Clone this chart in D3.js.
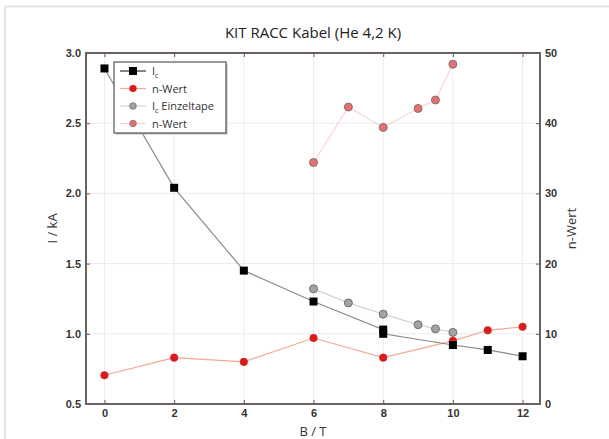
<!DOCTYPE html>
<html>
<head>
<meta charset="utf-8">
<script src="https://cdn.jsdelivr.net/npm/d3@7"></script>
<style>
  body { margin: 0; background: #fff; }
  svg { display: block; font-family: 'Open Sans', 'DejaVu Sans', sans-serif; }
  .tick text { font-size: 11px; fill: #333; font-weight: 600; }
</style>
</head>
<body>
<div id="chart"></div>
<script>
// Kabel-Messung
const cableField = [0, 2, 4, 6, 8, 8, 10, 11, 12];
const cableIc = [2.89, 2.04, 1.45, 1.23, 1.03, 1.0, 0.92, 0.885, 0.84];
const cableNField = [0, 2, 4, 6, 8, 10, 11, 12];
const cableN = [4.1, 6.6, 6.0, 9.4, 6.6, 9.0, 10.5, 11.0];
// Einzeltape
const tapeField = [6, 7, 8, 9, 9.5, 10];
const tapeIc = [1.32, 1.22, 1.14, 1.065, 1.035, 1.01];
const tapeN = [34.4, 42.3, 39.4, 42.1, 43.3, 48.4];
// Achsen
const xTicks = [0, 2, 4, 6, 8, 10, 12];
const yTicks = [0.5, 1.0, 1.5, 2.0, 2.5, 3.0];
const y2Ticks = [0, 10, 20, 30, 40, 50];

const width = 609;
const height = 439;
const margin = { top: 53, right: 69, bottom: 35, left: 86 };

const svg = d3.select('#chart').append('svg')
  .attr('width', width)
  .attr('height', height);

svg.append('rect').attr('width', width).attr('height', height).attr('fill', '#fff');

// Rahmen des Screenshots
svg.append('path')
  .attr('d', 'M5,' + height + ' V6.5 H' + width)
  .attr('fill', 'none')
  .attr('stroke', '#dfe5e4')
  .attr('stroke-width', 2);

const x = d3.scaleLinear().domain([-0.53, 12.5]).range([margin.left, width - margin.right]);
const y = d3.scaleLinear().domain([0.5, 3.0]).range([height - margin.bottom, margin.top]);
const y2 = d3.scaleLinear().domain([0, 50]).range([height - margin.bottom, margin.top]);

const x0 = margin.left, x1 = width - margin.right;
const yb = height - margin.bottom, yt = margin.top;

// Gitter
const grid = svg.append('g').attr('stroke', '#ececec').attr('stroke-width', 1);
grid.selectAll('.vg').data(xTicks).join('line')
  .attr('x1', d => x(d)).attr('x2', d => x(d)).attr('y1', yt).attr('y2', yb);
grid.selectAll('.hg').data(yTicks).join('line')
  .attr('x1', x0).attr('x2', x1).attr('y1', d => y(d)).attr('y2', d => y(d));

function styleAxis(g) {
  g.select('.domain').remove();
  g.selectAll('.tick line').attr('stroke', '#5f5757').attr('stroke-width', 1);
}

// Achsen (Ticks nach innen)
svg.append('g').attr('transform', 'translate(0,' + yb + ')')
  .call(d3.axisBottom(x).tickValues(xTicks).tickSizeInner(-4).tickPadding(5))
  .call(styleAxis);
svg.append('g').attr('transform', 'translate(0,' + yt + ')')
  .call(d3.axisTop(x).tickValues(xTicks).tickSizeInner(-4).tickFormat(''))
  .call(styleAxis);
svg.append('g').attr('transform', 'translate(' + x0 + ',0)')
  .call(d3.axisLeft(y).tickValues(yTicks).tickSizeInner(-4).tickPadding(5).tickFormat(d3.format('.1f')))
  .call(styleAxis);
svg.append('g').attr('transform', 'translate(' + x1 + ',0)')
  .call(d3.axisRight(y2).tickValues(y2Ticks).tickSizeInner(-4).tickPadding(5))
  .call(styleAxis);

// Linien
const lineIc = d3.line().x((d, i) => x(cableField[i])).y(d => y(d));
const lineN = d3.line().x((d, i) => x(cableNField[i])).y(d => y2(d));
const lineTapeIc = d3.line().x((d, i) => x(tapeField[i])).y(d => y(d));
const lineTapeN = d3.line().x((d, i) => x(tapeField[i])).y(d => y2(d));

svg.append('path').datum(tapeN).attr('d', lineTapeN)
  .attr('fill', 'none').attr('stroke', '#f9d3d3').attr('stroke-width', 1.2);
svg.append('path').datum(tapeIc).attr('d', lineTapeIc)
  .attr('fill', 'none').attr('stroke', '#d4d4d4').attr('stroke-width', 1.2);
svg.append('path').datum(cableN).attr('d', lineN)
  .attr('fill', 'none').attr('stroke', '#f5a898').attr('stroke-width', 1.2);
svg.append('path').datum(cableIc).attr('d', lineIc)
  .attr('fill', 'none').attr('stroke', '#8a8a8a').attr('stroke-width', 1.2);

// Marker
svg.append('g').selectAll('circle').data(tapeN).join('circle')
  .attr('cx', (d, i) => x(tapeField[i])).attr('cy', d => y2(d)).attr('r', 4)
  .attr('fill', '#e27272').attr('stroke', '#8c6d6d').attr('stroke-width', 1);
svg.append('g').selectAll('circle').data(tapeIc).join('circle')
  .attr('cx', (d, i) => x(tapeField[i])).attr('cy', d => y(d)).attr('r', 4)
  .attr('fill', '#a3a3a3').attr('stroke', '#6f6f6f').attr('stroke-width', 1);
svg.append('g').selectAll('circle').data(cableN).join('circle')
  .attr('cx', (d, i) => x(cableNField[i])).attr('cy', d => y2(d)).attr('r', 3.8)
  .attr('fill', '#d81c1c').attr('stroke', '#d81c1c').attr('stroke-width', 0.5);
svg.append('g').selectAll('rect').data(cableIc).join('rect')
  .attr('x', (d, i) => x(cableField[i]) - 4).attr('y', d => y(d) - 4)
  .attr('width', 8).attr('height', 8).attr('fill', '#000');

// Rahmen
svg.append('rect')
  .attr('x', x0).attr('y', yt).attr('width', x1 - x0).attr('height', yb - yt)
  .attr('fill', 'none').attr('stroke', '#6a6262').attr('stroke-width', 2);

// Titel und Achsenbeschriftungen
svg.append('text').attr('x', (x0 + x1) / 2).attr('y', 38).attr('text-anchor', 'middle')
  .attr('font-size', 15).attr('fill', '#222').text('KIT RACC Kabel (He 4,2 K)');
svg.append('text').attr('x', (x0 + x1) / 2).attr('y', 436).attr('text-anchor', 'middle')
  .attr('font-size', 13).attr('fill', '#333').text('B / T');
svg.append('text').attr('transform', 'translate(57,' + (yt + yb) / 2 + ') rotate(-90)')
  .attr('text-anchor', 'middle').attr('font-size', 13).attr('fill', '#333').text('I / kA');
svg.append('text').attr('transform', 'translate(576,' + (yt + yb) / 2 + ') rotate(-90)')
  .attr('text-anchor', 'middle').attr('font-size', 13).attr('fill', '#333').text('n-Wert');

// Legende
const legendItems = [
  { label: 'I', sub: 'c', line: '#333', marker: 'square', fill: '#000', stroke: '#000' },
  { label: 'n-Wert', line: '#f5a898', marker: 'circle', fill: '#d81c1c', stroke: '#d81c1c' },
  { label: 'I', sub: 'c', extra: ' Einzeltape', line: '#d4d4d4', marker: 'circle', fill: '#a3a3a3', stroke: '#6f6f6f' },
  { label: 'n-Wert', line: '#f9d3d3', marker: 'circle', fill: '#e27272', stroke: '#8c6d6d' }
];
const legend = svg.append('g').attr('transform', 'translate(114,62)');
legend.append('rect').attr('x', 1.5).attr('y', 1.5).attr('width', 112).attr('height', 71).attr('fill', '#bbb');
legend.append('rect').attr('width', 112).attr('height', 71)
  .attr('fill', '#fff').attr('stroke', '#555').attr('stroke-width', 1.2);
const li = legend.selectAll('.li').data(legendItems).join('g')
  .attr('transform', (d, i) => 'translate(0,' + (9 + i * 17.5) + ')');
li.append('line').attr('x1', 6).attr('x2', 32).attr('stroke', d => d.line).attr('stroke-width', 1.2);
li.each(function (d) {
  const g = d3.select(this);
  if (d.marker === 'square') {
    g.append('rect').attr('x', 15).attr('y', -4).attr('width', 8).attr('height', 8).attr('fill', d.fill);
  } else {
    g.append('circle').attr('cx', 19).attr('r', 3.3).attr('fill', d.fill).attr('stroke', d.stroke).attr('stroke-width', 0.8);
  }
  const t = g.append('text').attr('x', 38).attr('y', 4).attr('font-size', 11).attr('fill', '#333');
  t.append('tspan').text(d.label);
  if (d.sub) {
    t.append('tspan').attr('font-size', 7).attr('dy', 3).text(d.sub);
  }
  if (d.extra) {
    t.append('tspan').attr('dy', -3).text(d.extra);
  }
});
</script>
</body>
</html>
